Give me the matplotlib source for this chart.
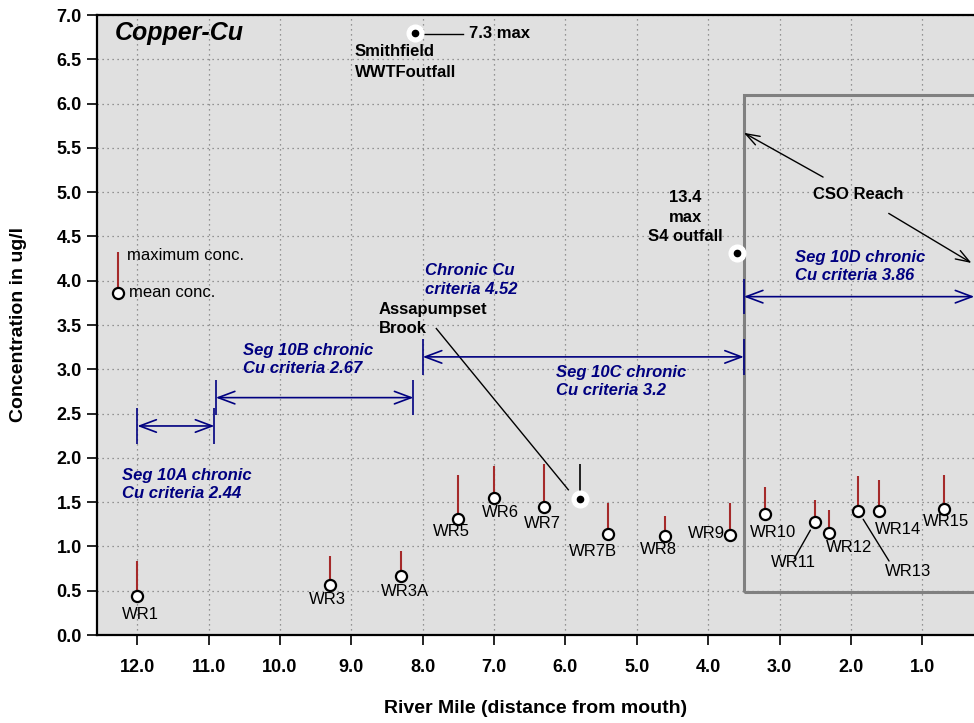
import matplotlib
matplotlib.use("Agg")
import matplotlib.pyplot as plt
from matplotlib.patches import Rectangle

plt.rcParams['font.family'] = ['Liberation Sans', 'DejaVu Sans']

# monitoring stations (river mile, mean and maximum copper, ug/l)
stations = ['WR1', 'WR3', 'WR3A', 'WR5', 'WR6', 'WR7', 'WR7B', 'WR8', 'WR9',
            'WR10', 'WR11', 'WR12', 'WR13', 'WR14', 'WR15']
river_mile = [12.0, 9.3, 8.3, 7.5, 7.0, 6.3, 5.4, 4.6, 3.7, 3.2, 2.5, 2.3, 1.9, 1.6, 0.7]
mean_conc = [0.44, 0.56, 0.67, 1.31, 1.55, 1.44, 1.14, 1.12, 1.13, 1.37, 1.28, 1.15, 1.40, 1.40, 1.42]
max_conc = [0.83, 0.89, 0.95, 1.81, 1.91, 1.93, 1.49, 1.34, 1.49, 1.67, 1.52, 1.41, 1.79, 1.75, 1.81]

# point sources
smithfield = (8.11, 6.80)
s4_outfall = (3.60, 4.31)
brook_mile = 5.8
brook_mean = 1.54
brook_max = 1.93

# criteria segments
seg_start = [12.0, 10.9, 8.0, 3.5]
seg_end = [10.92, 8.13, 3.5, 0.27]
seg_level = [2.36, 2.68, 3.14, 3.82]
seg_labels = ['Seg 10A chronic\nCu criteria 2.44',
              'Seg 10B chronic\nCu criteria 2.67',
              'Seg 10C chronic\nCu criteria 3.2',
              'Seg 10D chronic\nCu criteria 3.86']

# CSO reach box
cso_start = 3.5
cso_low = 0.49
cso_high = 6.1

NAVY = '#000080'
RED = '#a52a2a'

# label offsets in pixels (x, y) from each station marker
label_offsets = [(3, -18), (-3, -14), (4, -16), (-7, -13), (6, -15), (-2, -16),
                 (-15, -17), (-7, -14), (-23, 1), (8, -19), (-22, -41), (20, -14),
                 (50, -61), (19, -18), (2, -12)]
seg_text_pos = [(12.22, 1.89), (10.52, 3.30), (6.13, 3.05), (2.78, 4.35)]


def draw_stations(ax):
    ax.vlines(river_mile, mean_conc, max_conc, color=RED, lw=1.5, zorder=3)
    ax.plot(river_mile, mean_conc, 'o', ms=8, mfc='white', mec='black', mew=1.6, zorder=4)
    for name, x, y, off in zip(stations, river_mile, mean_conc, label_offsets):
        ax.annotate(name, (x, y), xytext=off, textcoords='offset pixels',
                    ha='center', va='center', fontsize=12, zorder=5)
    # leader lines for crowded labels
    ax.annotate('', xy=(2.5, 1.28), xytext=(-21, -37), textcoords='offset pixels',
                arrowprops=dict(arrowstyle='-', color='black', lw=1, shrinkA=0, shrinkB=7))
    ax.annotate('', xy=(1.9, 1.40), xytext=(31, -50), textcoords='offset pixels',
                arrowprops=dict(arrowstyle='-', color='black', lw=1, shrinkA=0, shrinkB=7))


def draw_outfall(ax, x, y):
    ax.plot(x, y, 'o', ms=12, mfc='white', mec='white', zorder=4)
    ax.plot(x, y, 'o', ms=4.5, color='black', zorder=5)


def draw_segments(ax):
    n = len(seg_start)
    for i, (x0, x1, y, lab, pos) in enumerate(zip(seg_start, seg_end, seg_level,
                                                   seg_labels, seg_text_pos)):
        ax.annotate('', xy=(x1, y), xytext=(x0, y), annotation_clip=False,
                    arrowprops=dict(arrowstyle='<->, head_length=1.2, head_width=0.45',
                                    color=NAVY, lw=1.2, shrinkA=0, shrinkB=0))
        ends = [x0, x1] if i < n - 1 else [x0]
        ax.vlines(ends, y - 0.2, y + 0.2, color=NAVY, lw=1.2)
        ax.text(pos[0], pos[1], lab, color=NAVY, fontsize=12, fontweight='bold',
                style='italic', ha='left', va='top', linespacing=1.3)


fig = plt.figure(figsize=(9.74, 7.23), dpi=100)
ax = fig.add_axes([97 / 974, 1 - 635 / 723, 1 - 97 / 974, (635 - 15) / 723])
ax.set_facecolor('#e0e0e0')
ax.set_xlim(12.565, 0.275)
ax.set_ylim(0, 7.0)

xt = [12.0 - i for i in range(12)]
ax.set_xticks(xt)
ax.set_xticklabels(['%.1f' % v for v in xt])
yt = [i * 0.5 for i in range(15)]
ax.set_yticks(yt)
ax.set_yticklabels(['%.1f' % v for v in yt])
ax.tick_params(axis='x', direction='out', length=7, width=1.2, pad=10, labelsize=13)
ax.tick_params(axis='y', direction='out', length=7, width=1.2, pad=4, labelsize=13)
for lab in ax.get_xticklabels() + ax.get_yticklabels():
    lab.set_fontweight('bold')
ax.grid(True, color='#7a7a7a', linestyle=(0, (1, 3)), lw=0.9)
ax.set_axisbelow(True)
for side in ['left', 'bottom', 'top']:
    ax.spines[side].set_linewidth(1.6)
ax.spines['right'].set_visible(False)

ax.set_xlabel('River Mile (distance from mouth)', fontsize=14, fontweight='bold', va='center')
ax.set_ylabel('Concentration in ug/l', fontsize=14, fontweight='bold', va='center')
ax.xaxis.set_label_coords(0.5, -0.118)
ax.yaxis.set_label_coords(-0.090, 0.5)

# CSO reach box
ax.add_patch(Rectangle((cso_start, cso_low), -5, cso_high - cso_low, fill=False,
                       edgecolor='#808080', lw=2.2, zorder=2))

draw_segments(ax)
draw_stations(ax)

# Assapumpset Brook
ax.vlines(brook_mile, brook_mean, brook_max, color='black', lw=1.2, zorder=3)
draw_outfall(ax, brook_mile, brook_mean)
ax.text(8.62, 3.76, 'Assapumpset\nBrook', fontsize=12, fontweight='bold', ha='left', va='top',
        linespacing=1.3)
ax.plot([7.81, 5.96], [3.46, 1.64], color='black', lw=1)

# Smithfield WWTF
draw_outfall(ax, *smithfield)
ax.plot([7.99, 7.44], [6.79, 6.79], color='black', lw=1)
ax.text(7.35, 6.79, '7.3 max', fontsize=12, fontweight='bold', ha='left', va='center')
ax.text(8.95, 6.67, 'Smithfield\nWWTFoutfall', fontsize=12, fontweight='bold', ha='left', va='top',
        linespacing=1.45)

# S4 outfall
draw_outfall(ax, *s4_outfall)
ax.text(4.32, 5.02, '13.4\nmax\nS4 outfall', fontsize=12, fontweight='bold', ha='center', va='top',
        linespacing=1.35)

# chronic criteria label
ax.text(7.97, 4.20, 'Chronic Cu\ncriteria 4.52', color=NAVY, fontsize=12, fontweight='bold',
        style='italic', ha='left', va='top', linespacing=1.3)

# CSO reach arrows
ax.text(1.90, 4.97, 'CSO Reach', fontsize=12, fontweight='bold', ha='center', va='center')
ax.annotate('', xy=(3.50, 5.67), xytext=(2.39, 5.17),
            arrowprops=dict(arrowstyle='->, head_length=1.0, head_width=0.35', color='black',
                            lw=1, shrinkA=0, shrinkB=0))
ax.annotate('', xy=(0.31, 4.20), xytext=(1.47, 4.76),
            arrowprops=dict(arrowstyle='->, head_length=1.0, head_width=0.35', color='black',
                            lw=1, shrinkA=0, shrinkB=0))

# legend key
ax.vlines(12.27, 3.86, 4.32, color=RED, lw=1.5, zorder=3)
ax.plot(12.27, 3.86, 'o', ms=8, mfc='white', mec='black', mew=1.6, zorder=4)
ax.text(12.14, 4.29, 'maximum conc.', fontsize=12, ha='left', va='center')
ax.text(12.11, 3.87, 'mean conc.', fontsize=12, ha='left', va='center')

ax.text(12.31, 6.80, 'Copper-Cu', fontsize=18, fontweight='bold', style='italic',
        ha='left', va='center')

fig.savefig('out.png', dpi=100)
